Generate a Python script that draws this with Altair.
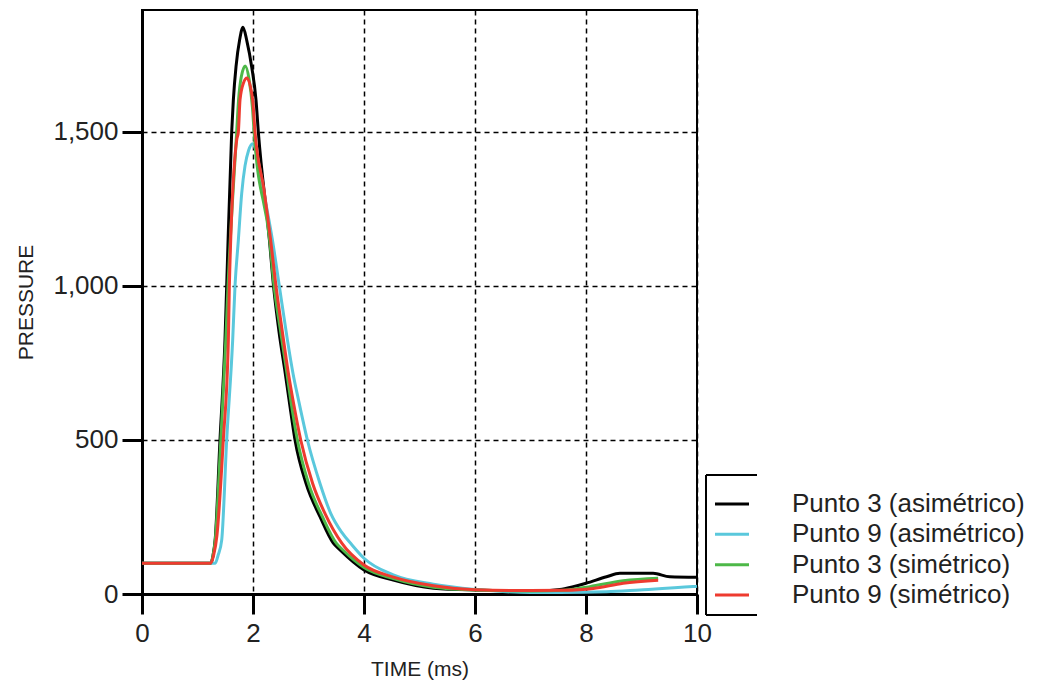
import altair as alt
import pandas as pd

series_names = ["Punto 3 (asimétrico)", "Punto 9 (asimétrico)", "Punto 3 (simétrico)", "Punto 9 (simétrico)"]
series_colors = ["#000000", "#5AC8DC", "#4DB848", "#EE3B2F"]

x_ticks = [0, 2, 4, 6, 8, 10]
y_ticks = [0, 500, 1000, 1500]

# Punto 3 (asimétrico) - black
t_p3a = [0, 1.24, 1.28, 1.32, 1.405, 1.495, 1.526, 1.616, 1.646, 1.694, 1.76, 1.82, 1.89, 1.976, 2.054, 2.096,
         2.296, 2.37, 2.47, 2.57, 2.65, 2.757, 2.955, 3.207, 3.447, 3.568, 4.0, 4.528, 5.25, 6.0, 6.8, 7.17, 7.53,
         7.77, 8.0, 8.37, 8.61, 9.21, 9.51, 10.0]
p_p3a = [100, 100, 125, 180, 500, 825, 1000, 1500, 1604, 1712, 1800, 1840, 1795, 1712, 1604, 1500,
         1149, 1000, 850, 730, 630, 500, 359, 251, 165, 143, 78, 45, 19, 13, 11, 11, 15,
         24, 35, 56, 67, 67, 56, 54]

# Punto 9 (asimétrico) - cyan
t_p9a = [0, 1.32, 1.37, 1.436, 1.526, 1.634, 1.676, 1.736, 1.796, 1.856, 1.92, 1.994, 2.05, 2.10, 2.22, 2.35,
         2.474, 2.62, 2.72, 2.82, 2.98, 3.207, 3.40, 3.6, 3.78, 4.0, 4.528, 5.25, 6.0, 6.5, 7.0, 7.53, 8.37,
         8.97, 9.93, 10.0]
p_p9a = [100, 100, 125, 175, 500, 825, 1000, 1149, 1300, 1390, 1440, 1462, 1440, 1400, 1280, 1149,
         1000, 825, 717, 630, 500, 359, 262, 200, 160, 116, 62, 32, 15, 8, 5, 5, 7,
         13, 24, 25]

# Punto 3 (simétrico) - green
t_p3s = [0, 1.24, 1.28, 1.32, 1.42, 1.51, 1.55, 1.706, 1.74, 1.79, 1.86, 1.93, 1.99, 2.02, 2.30, 2.38, 2.50,
         2.60, 2.68, 2.80, 3.0, 3.25, 3.50, 3.62, 4.0, 4.53, 5.25, 6.0, 7.0, 7.6, 8.07, 8.67, 9.30]
p_p3s = [100, 100, 125, 175, 500, 825, 1000, 1500, 1604, 1680, 1714, 1670, 1580, 1500, 1149, 1000, 850,
         730, 630, 500, 359, 251, 165, 143, 86, 50, 22, 13, 10, 12, 24, 43, 51]

# Punto 9 (simétrico) - red
t_p9s = [0, 1.24, 1.29, 1.35, 1.465, 1.556, 1.574, 1.706, 1.736, 1.766, 1.83, 1.89, 1.994, 2.036, 2.198, 2.318,
         2.414, 2.53, 2.63, 2.73, 2.86, 3.075, 3.30, 3.60, 4.0, 4.53, 5.25, 6.0, 7.0, 7.6, 8.13, 8.67, 9.30]
p_p9s = [100, 100, 125, 190, 500, 825, 1000, 1474, 1500, 1604, 1660, 1675, 1604, 1500, 1312, 1149,
         1000, 850, 725, 620, 500, 359, 260, 165, 94, 55, 27, 14, 11, 12, 18, 35, 45]

rows = []
for name, ts, ps in zip(series_names, [t_p3a, t_p9a, t_p3s, t_p9s], [p_p3a, p_p9a, p_p3s, p_p9s]):
    for t, p in zip(ts, ps):
        rows.append({"series": name, "t": t, "p": p})
df = pd.DataFrame(rows)

FONT = "Liberation Sans"
TXT = "#222222"

color_scale = alt.Scale(domain=series_names, range=series_colors)

lines = alt.Chart(df).mark_line(strokeWidth=3, interpolate="monotone").encode(
    x=alt.X("t:Q", scale=alt.Scale(domain=[0, 10], nice=False),
            axis=alt.Axis(values=x_ticks, title="TIME (ms)", labelFlush=False, labelPadding=6, titlePadding=12)),
    y=alt.Y("p:Q", scale=alt.Scale(domain=[0, 1896], nice=False),
            axis=alt.Axis(values=y_ticks, format=",.0f", title="PRESSURE", labelPadding=4, titlePadding=16)),
    color=alt.Color("series:N", scale=color_scale, legend=None),
)

one = pd.DataFrame({"a": [0]})
box_left = alt.Chart(one).mark_rule(color="black", strokeWidth=2).encode(
    x=alt.value(564), y=alt.value(465), y2=alt.value(605))
box_top = alt.Chart(one).mark_rule(color="black", strokeWidth=2).encode(
    x=alt.value(564), x2=alt.value(615), y=alt.value(465))
box_bottom = alt.Chart(one).mark_rule(color="black", strokeWidth=2).encode(
    x=alt.value(564), x2=alt.value(615), y=alt.value(605))

legend_df = pd.DataFrame({"series": series_names, "row": [0, 1, 2, 3]})
row_scale = alt.Scale(domain=[0, 3], range=[494, 585])
leg_lines = alt.Chart(legend_df).mark_rule(strokeWidth=3).encode(
    x=alt.value(573), x2=alt.value(607),
    y=alt.Y("row:Q", scale=row_scale, axis=None),
    color=alt.Color("series:N", scale=color_scale, legend=None),
)
leg_text = alt.Chart(legend_df).mark_text(align="left", baseline="middle", fontSize=26, font=FONT, color=TXT).encode(
    x=alt.value(650),
    y=alt.Y("row:Q", scale=row_scale, axis=None),
    text="series:N",
)

chart = alt.layer(lines, box_left, box_top, box_bottom, leg_lines, leg_text).resolve_scale(
    y="independent"
).properties(
    width=555, height=584,
    autosize=alt.AutoSizeParams(type="none"),
    padding={"left": 142, "top": 10, "right": 351, "bottom": 92},
    background="white",
).configure_view(
    stroke="black", strokeWidth=2
).configure_axis(
    domainColor="black", domainWidth=3,
    tickColor="black", tickWidth=3, tickSize=20,
    labelFont=FONT, labelFontSize=26, labelColor=TXT,
    titleFont=FONT, titleFontSize=21, titleFontWeight="normal", titleColor=TXT,
    gridColor="black", gridDash=[5, 4], gridWidth=1.5, gridOpacity=1,
)

chart.save("out.html", embed_options={"renderer": "svg", "actions": False})
